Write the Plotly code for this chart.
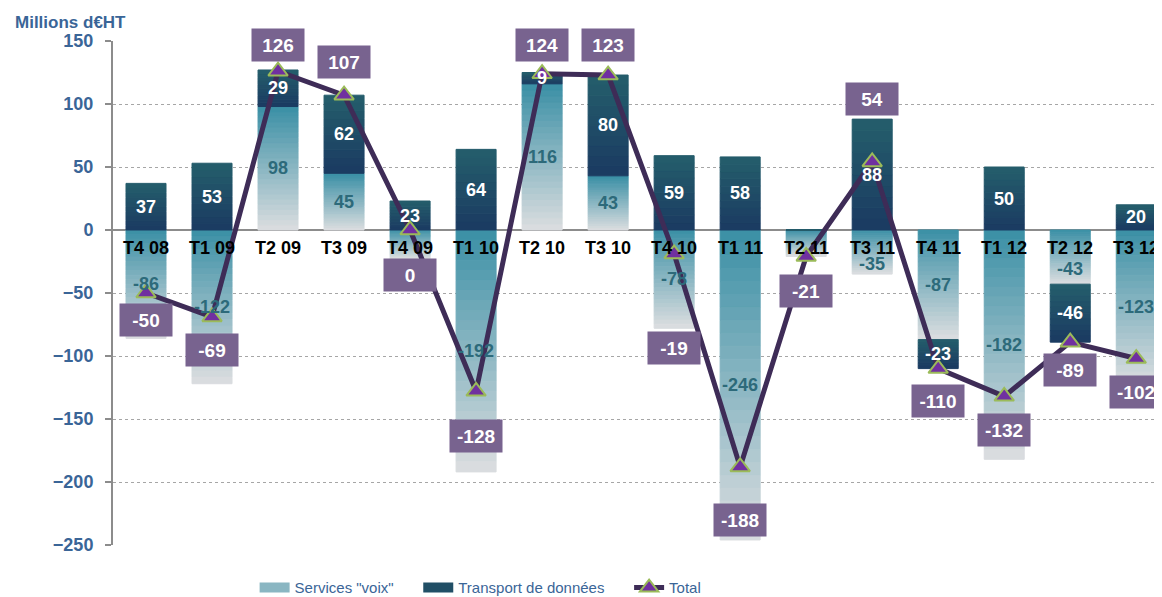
import plotly.graph_objects as go

# données trimestrielles (millions d'euros HT)
quarters = ["T4 08", "T1 09", "T2 09", "T3 09", "T4 09", "T1 10", "T2 10", "T3 10",
            "T4 10", "T1 11", "T2 11", "T3 11", "T4 11", "T1 12", "T2 12", "T3 12"]
voix = [-86, -122, 98, 45, -23, -192, 116, 43, -78, -246, -21, -35, -87, -182, -43, -123]
donnees = [37, 53, 29, 62, 23, 64, 9, 80, 59, 58, 0, 88, -23, 50, -46, 20]
total = [-50, -69, 126, 107, 0, -128, 124, 123, -19, -188, -21, 54, -110, -132, -89, -102]

# décalage (px) des étiquettes du total par rapport au point
total_label_shift = [-27, -33, 26, 33, -45, -45, 29, 30, -94, -53, -35, 63, -32, -34, -28, -33]

BLUE = "#3a6597"
FONT = "Liberation Sans, Arial, sans-serif"


def mix(c1, c2, t):
    return "rgb(%d,%d,%d)" % tuple(round(a + (b - a) * t) for a, b in zip(c1, c2))


def gradient_bars(fig, values, n, top_col, bottom_col):
    """barres empilées en n tranches pour simuler un dégradé vertical"""
    for k in range(n):
        cols = []
        for v in values:
            frac = 1 - (k + 0.5) / n if v >= 0 else (k + 0.5) / n
            cols.append(mix(top_col, bottom_col, frac))
        fig.add_trace(go.Bar(
            x=quarters, y=[v / n for v in values],
            marker=dict(color=cols, line=dict(width=1, color=cols)),
            showlegend=False, hoverinfo="skip"
        ))


fig = go.Figure()
gradient_bars(fig, voix, 24, (58, 143, 165), (220, 222, 224))
gradient_bars(fig, donnees, 10, (36, 94, 107), (27, 58, 98))

# entrées de légende (une légende par série pour garder les écarts)
fig.add_trace(go.Scatter(x=[None], y=[None], mode="lines", name='Services "voix"',
                         line=dict(color="#8ab6c2", width=11), legend="legend"))
fig.add_trace(go.Scatter(x=[None], y=[None], mode="lines", name="Transport de données",
                         line=dict(color="#214f66", width=11), legend="legend2"))

fig.add_trace(go.Scatter(
    x=quarters, y=total, mode="lines+markers", name="Total", legend="legend3",
    line=dict(color="#3e2c57", width=5),
    marker=dict(symbol="triangle-up", size=17, color="#7030a0",
                line=dict(color="#9bbb59", width=2))
))

ann = []
for i, q in enumerate(quarters):
    v, d, t = voix[i], donnees[i], total[i]
    if abs(v) >= 25:
        ann.append(dict(x=q, y=v / 2, text=f"<b>{v}</b>", showarrow=False,
                        yshift=-12 if -50 < v < 0 else 0,
                        font=dict(size=18, color="#2d6a7a", family=FONT)))
    if d != 0:
        base = v if (v >= 0) == (d >= 0) else 0
        ann.append(dict(x=q, y=base + d / 2, text=f"<b>{d}</b>", showarrow=False,
                        font=dict(size=18, color="white", family=FONT)))
    ann.append(dict(x=q, y=0, yanchor="top", yshift=-6, text=f"<b>{q}</b>",
                    showarrow=False, font=dict(size=18, color="black", family=FONT)))
    ann.append(dict(x=q, y=t, yshift=total_label_shift[i], text=f"<b>{t}</b>",
                    showarrow=False, bgcolor="#78638f", width=50, height=30,
                    font=dict(size=19, color="white", family=FONT)))

ann.append(dict(x=-0.0953, y=1.036, xref="paper", yref="paper", xanchor="left",
                yanchor="middle", text="<b>Millions d€HT</b>", showarrow=False,
                font=dict(size=17, color=BLUE, family=FONT)))

legend_style = dict(orientation="h", y=-0.085, yanchor="middle", xanchor="left",
                    font=dict(size=15, color=BLUE, family=FONT),
                    bgcolor="rgba(0,0,0,0)")

# la page ajoute une marge de 8 px autour du graphique
fig.update_layout(
    width=1154, height=589,
    margin=dict(l=105, r=0, t=33, b=52, autoexpand=False),
    barmode="relative", bargap=0.394,
    paper_bgcolor="white", plot_bgcolor="white",
    font=dict(family=FONT),
    xaxis=dict(range=[-0.5, 15.39], showticklabels=False, showgrid=False,
               showline=False, zeroline=False, ticks=""),
    yaxis=dict(range=[-250, 150], dtick=50, showgrid=True, gridcolor="#a6a6a6",
               griddash="dot", gridwidth=1, zeroline=True, zerolinecolor="#8c8c8c",
               zerolinewidth=2, showline=True, linecolor="#8c8c8c", linewidth=2,
               ticks="outside", ticklen=6, tickwidth=2, tickcolor="#8c8c8c",
               ticklabelstandoff=8,
               tickfont=dict(size=18, color=BLUE, family=FONT),
               tickprefix="<b>", ticksuffix="</b>"),
    legend=dict(legend_style, x=0.135),
    legend2=dict(legend_style, x=0.291),
    legend3=dict(legend_style, x=0.492),
    annotations=ann,
    showlegend=True
)

fig.write_html("out.html")
